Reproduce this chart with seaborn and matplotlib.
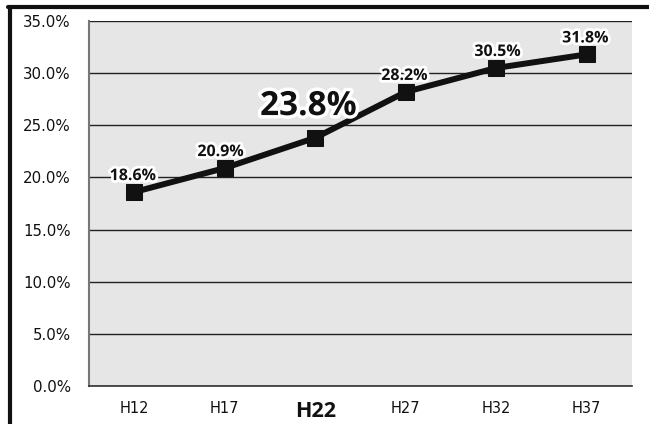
import matplotlib
matplotlib.use("Agg")
import matplotlib.pyplot as plt
import matplotlib.patheffects as pe
from matplotlib.lines import Line2D
from matplotlib.ticker import FixedLocator, FuncFormatter
import seaborn as sns
import pandas as pd

categories = ["H12", "H17", "H22", "H27", "H32", "H37"]
values = [18.6, 20.9, 23.8, 28.2, 30.5, 31.8]
labels = ["18.6%", "20.9%", "23.8%", "28.2%", "30.5%", "31.8%"]
label_offsets = [(-1, 11.5), (-3, 11.5), (-5, 22.5), (-1, 11.5), (1, 11.5), (-1, 11.5)]

df = pd.DataFrame({"x": range(len(categories)), "y": values})

sns.set_style("white")
plt.rcParams['font.family'] = ['DejaVu Sans']

fig = plt.figure(figsize=(6.49, 4.24), dpi=100)
ax = fig.add_axes([89/649, 1-386/424, (632-89)/649, (386-21)/424])
ax.set_facecolor("#e6e6e7")

sns.lineplot(data=df, x="x", y="y", ax=ax, color="#111111", linewidth=4.3,
             marker="s", markersize=11, markeredgecolor="#111111", zorder=5)
ax.set_xlabel("")
ax.set_ylabel("")

ax.set_xlim(-0.5, len(categories) - 0.5)
ax.set_ylim(0, 35)
ax.yaxis.set_major_locator(FixedLocator([0, 5, 10, 15, 20, 25, 30, 35]))
ax.yaxis.set_major_formatter(FuncFormatter(lambda v, p: f"{v:.1f}%"))
ax.grid(axis="y", color="#222222", linewidth=1.0)
ax.set_axisbelow(True)

ax.set_xticks(range(len(categories)))
ax.set_xticklabels(categories)
ax.set_xticks([i - 0.5 for i in range(len(categories) + 1)], minor=True)
ax.tick_params(axis="x", which="major", length=0, pad=11, labelsize=10.5, colors="#111111")
ax.tick_params(axis="x", which="minor", length=4, width=1, color="#333333", direction="out")
ax.tick_params(axis="y", which="major", length=4, width=1, color="#333333", direction="out",
               labelsize=10.8, labelcolor="#111111", pad=9)
for lab in ax.get_xticklabels():
    if lab.get_text() == "H22":
        lab.set_fontsize(15.5)
        lab.set_fontweight("bold")
        lab.set_family(["Open Sans", "DejaVu Sans"])

for s in ["top", "right"]:
    ax.spines[s].set_visible(False)
ax.spines["left"].set_color("#777777")
ax.spines["left"].set_linewidth(1.5)
ax.spines["bottom"].set_color("#333333")
ax.spines["bottom"].set_linewidth(1.2)

for i, (v, t, off) in enumerate(zip(values, labels, label_offsets)):
    big = (categories[i] == "H22")
    ax.annotate(t, (i, v), xytext=off, textcoords="offset points",
                ha="center", va="center", fontsize=24 if big else 11.5,
                fontweight="bold", family=["Open Sans", "DejaVu Sans"], color="#111111", zorder=10,
                path_effects=[pe.withStroke(linewidth=5 if big else 4, foreground="white")])

# figure frame (top and left)
fig.add_artist(Line2D([8/649, 1], [1-7/424, 1-7/424], color="#111111", linewidth=3,
                      transform=fig.transFigure))
fig.add_artist(Line2D([9.5/649, 9.5/649], [0, 1-7/424], color="#111111", linewidth=3,
                      transform=fig.transFigure))

fig.savefig("out.png", dpi=100, facecolor="white")
